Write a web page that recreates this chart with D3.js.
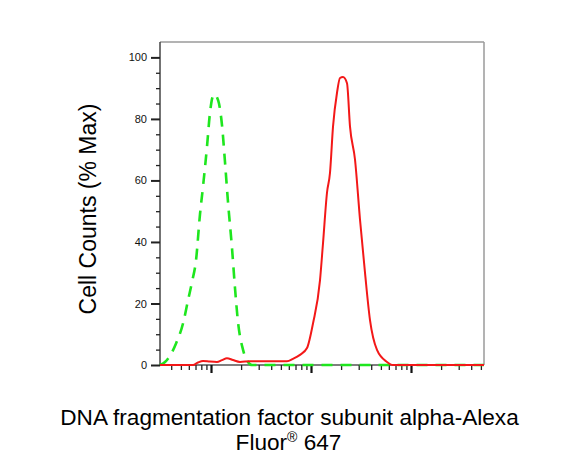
<!DOCTYPE html>
<html>
<head>
<meta charset="utf-8">
<script src="https://cdn.jsdelivr.net/npm/d3@7"></script>
<style>
  html, body { margin: 0; padding: 0; background: #fff; }
  svg { display: block; font-family: "Liberation Sans", Arial, sans-serif; }
</style>
</head>
<body>
<svg id="chart" width="587" height="465"></svg>
<script>
// ---- data ----
const controlX = [30.9, 34.7, 38.9, 44.7, 52.5, 58.9, 64.6, 70.8, 77.6, 83.2, 91.2, 97.7, 104.7, 109.6, 114.8, 120.2, 128.8, 138, 147.9, 162.2, 173.8, 186.2, 208.9, 234.4, 257, 776, 7762, 53703];
const controlY = [0, 1, 3, 7, 13.5, 21, 27, 34, 49, 58, 71, 82, 87.5, 88, 87, 85, 78, 66, 53, 38, 25, 14, 5, 1, 0, 0, 0, 0];
const sampleX = [30.9, 66.1, 74.1, 83.2, 97.7, 114.8, 128.8, 144.5, 166, 195, 245.5, 389, 575, 661, 776, 912, 1047, 1230, 1318, 1445, 1549, 1660, 1820, 1950, 2089, 2291, 2455, 2754, 3090, 3467, 3890, 4571, 5754, 6607, 53703];
const sampleY = [0, 0, 0.8, 1.3, 1.1, 1, 1.6, 2.2, 1.6, 1, 1.2, 1.2, 1.2, 2, 3.3, 5.5, 13.5, 27.5, 39.5, 56, 62.5, 77.5, 88.5, 93.3, 93.6, 91.6, 77.5, 66.8, 47.3, 30, 14.6, 4.9, 1, 0, 0];
const yTickValues = [0, 20, 40, 60, 80, 100];
const yMinorValues = [5, 10, 15, 25, 30, 35, 45, 50, 55, 65, 70, 75, 85, 90, 95];
const xMajorValues = [100, 1000, 10000];
const xMinorValues = [40, 50, 60, 70, 80, 90, 200, 300, 400, 500, 600, 700, 800, 900, 2000, 3000, 4000, 5000, 6000, 7000, 8000, 9000, 20000, 30000, 40000, 50000];
const yTitle = "Cell Counts (% Max)";
const xTitleLine1 = "DNA fragmentation factor subunit alpha-Alexa";
const xTitleLine2a = "Fluor";
const xTitleSup = "®";
const xTitleLine2b = " 647";

// ---- layout ----
const L = 160, R = 484, T = 42, B = 365;
const svg = d3.select("#chart");
const x = d3.scaleLog().domain([Math.pow(10, 1.49), Math.pow(10, 4.73)]).range([L, R]);
const y = d3.scaleLinear().domain([0, 105]).range([B, T]);

// frame
svg.append("line").attr("x1", L).attr("x2", R).attr("y1", T).attr("y2", T).attr("stroke", "#9a9a9a").attr("stroke-width", 1.5);
svg.append("line").attr("x1", R).attr("x2", R).attr("y1", T).attr("y2", B).attr("stroke", "#9a9a9a").attr("stroke-width", 1.5);
svg.append("line").attr("x1", L).attr("x2", R).attr("y1", B).attr("y2", B).attr("stroke", "#555").attr("stroke-width", 1.5);

// y axis
const yAxis = d3.axisLeft(y).tickValues(yTickValues).tickSize(9).tickPadding(4).tickSizeOuter(0);
const gy = svg.append("g").attr("transform", `translate(${L},0)`).call(yAxis);
gy.select(".domain").attr("stroke", "#444").attr("stroke-width", 1.5).attr("d", `M0,${T}V${B}`);
gy.selectAll(".tick line").attr("stroke", "#222").attr("stroke-width", 2);
gy.selectAll(".tick text").attr("font-size", 11).attr("fill", "#111").attr("font-family", "Liberation Sans, Arial, sans-serif");
const gyMinor = svg.append("g").attr("transform", `translate(${L},0)`)
  .call(d3.axisLeft(y).tickValues(yMinorValues).tickSize(4).tickFormat(""));
gyMinor.select(".domain").remove();
gyMinor.selectAll(".tick line").attr("stroke", "#222").attr("stroke-width", 1.3);

// x axis
const gx = svg.append("g").attr("transform", `translate(0,${B})`)
  .call(d3.axisBottom(x).tickValues(xMajorValues).tickSize(8).tickFormat(""));
gx.select(".domain").remove();
gx.selectAll(".tick line").attr("stroke", "#111").attr("stroke-width", 2.2);
const gxMinor = svg.append("g").attr("transform", `translate(0,${B})`)
  .call(d3.axisBottom(x).tickValues(xMinorValues).tickSize(5).tickFormat(""));
gxMinor.select(".domain").remove();
gxMinor.selectAll(".tick line").attr("stroke", "#222").attr("stroke-width", 1.3);

// curves
const line = d3.line().x(d => x(d[0])).y(d => y(d[1])).curve(d3.curveMonotoneX);
const controlData = controlX.map((v, i) => [v, controlY[i]]);
const sampleData = sampleX.map((v, i) => [v, sampleY[i]]);
svg.append("path").attr("d", line(controlData)).attr("fill", "none")
  .attr("stroke", "#1ee61e").attr("stroke-width", 2.6).attr("stroke-dasharray", "11,8");
svg.append("path").attr("d", line(sampleData)).attr("fill", "none")
  .attr("stroke", "#f31818").attr("stroke-width", 2);

// titles
svg.append("text").attr("transform", `translate(96,209) rotate(-90)`)
  .attr("text-anchor", "middle")
  .attr("font-size", 23).attr("fill", "#000").text(yTitle);
svg.append("text").attr("x", 289.5).attr("y", 425).attr("text-anchor", "middle")
  .attr("font-size", 22.6).attr("fill", "#000").text(xTitleLine1);
const t2 = svg.append("text").attr("x", 288.5).attr("y", 450).attr("text-anchor", "middle")
  .attr("font-size", 22.6).attr("fill", "#000");
t2.append("tspan").text(xTitleLine2a);
t2.append("tspan").attr("font-size", 14).attr("dy", -8).text(xTitleSup);
t2.append("tspan").attr("dy", 8).text(xTitleLine2b);
</script>
</body>
</html>
